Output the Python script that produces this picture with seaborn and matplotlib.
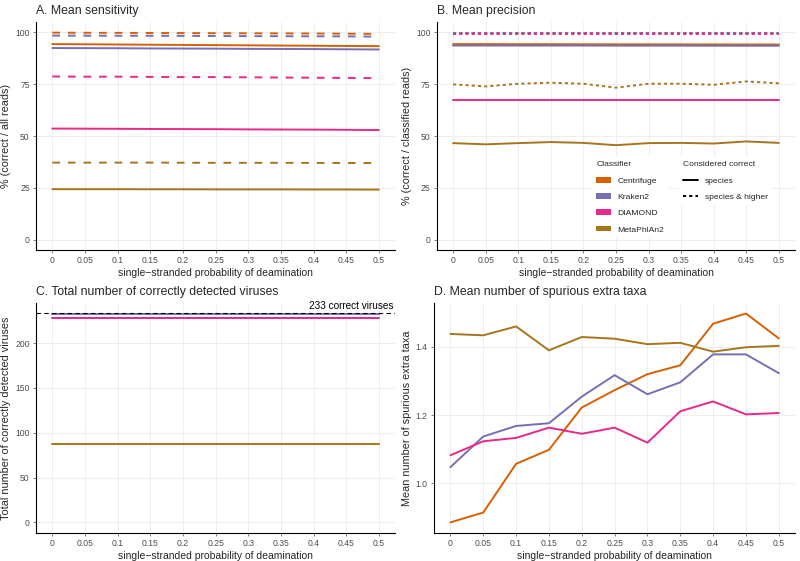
import pandas as pd
import matplotlib
matplotlib.use("Agg")
import matplotlib.pyplot as plt
import matplotlib.patches as mpatches
from matplotlib.lines import Line2D
import seaborn as sns

# deamination probabilities (x axis)
deam = [0, 0.05, 0.1, 0.15, 0.2, 0.25, 0.3, 0.35, 0.4, 0.45, 0.5]
x_labels = ["0", "0.05", "0.1", "0.15", "0.2", "0.25", "0.3", "0.35", "0.4", "0.45", "0.5"]
classifiers = ["Centrifuge", "Kraken2", "DIAMOND", "MetaPhlAn2"]
levels = ["species", "species & higher"]
colors = ["#D95F02", "#7570B3", "#E7298A", "#A6761D"]

# A. mean sensitivity (%)
sens_species = {
    "Centrifuge": [94.3, 94.2, 94.1, 94.0, 93.9, 93.8, 93.7, 93.6, 93.5, 93.4, 93.3],
    "Kraken2": [92.4, 92.35, 92.3, 92.2, 92.15, 92.1, 92.0, 91.95, 91.9, 91.8, 91.7],
    "DIAMOND": [53.6, 53.55, 53.5, 53.4, 53.35, 53.3, 53.2, 53.15, 53.1, 53.0, 52.9],
    "MetaPhlAn2": [24.4, 24.4, 24.4, 24.35, 24.35, 24.3, 24.3, 24.3, 24.25, 24.25, 24.2],
}
sens_higher = {
    "Centrifuge": [99.8, 99.75, 99.7, 99.65, 99.6, 99.55, 99.5, 99.45, 99.4, 99.3, 99.2],
    "Kraken2": [98.4, 98.35, 98.3, 98.3, 98.25, 98.2, 98.15, 98.1, 98.05, 98.0, 97.9],
    "DIAMOND": [78.7, 78.6, 78.6, 78.5, 78.4, 78.4, 78.3, 78.2, 78.1, 78.0, 77.9],
    "MetaPhlAn2": [37.2, 37.2, 37.2, 37.2, 37.15, 37.1, 37.1, 37.1, 37.05, 37.0, 37.0],
}

# B. mean precision (%)
prec_species = {
    "Centrifuge": [94.3, 94.3, 94.25, 94.25, 94.2, 94.2, 94.2, 94.15, 94.15, 94.1, 94.1],
    "Kraken2": [93.6, 93.6, 93.6, 93.6, 93.6, 93.55, 93.55, 93.55, 93.5, 93.5, 93.5],
    "DIAMOND": [67.4, 67.4, 67.4, 67.4, 67.4, 67.4, 67.4, 67.4, 67.4, 67.4, 67.4],
    "MetaPhlAn2": [46.6, 46.0, 46.6, 47.1, 46.7, 45.6, 46.6, 46.7, 46.4, 47.4, 46.7],
}
prec_higher = {
    "Centrifuge": [99.7, 99.7, 99.7, 99.7, 99.7, 99.7, 99.7, 99.7, 99.7, 99.7, 99.7],
    "Kraken2": [99.5, 99.5, 99.5, 99.5, 99.5, 99.5, 99.5, 99.5, 99.5, 99.5, 99.5],
    "DIAMOND": [99.0, 99.0, 99.0, 99.0, 99.0, 99.0, 99.0, 99.0, 99.0, 99.0, 99.0],
    "MetaPhlAn2": [74.9, 73.9, 75.2, 75.7, 75.2, 73.3, 75.2, 75.2, 74.7, 76.3, 75.4],
}

# C. total number of correctly detected viruses
viruses = {
    "Centrifuge": [232] * 11,
    "Kraken2": [232] * 11,
    "DIAMOND": [228] * 11,
    "MetaPhlAn2": [87] * 11,
}
n_correct = 233

# D. mean number of spurious extra taxa
spurious = {
    "Centrifuge": [0.885, 0.914, 1.057, 1.098, 1.222, 1.273, 1.320, 1.346, 1.468, 1.498, 1.425],
    "Kraken2": [1.047, 1.137, 1.168, 1.176, 1.254, 1.317, 1.261, 1.296, 1.378, 1.378, 1.323],
    "DIAMOND": [1.082, 1.123, 1.133, 1.163, 1.145, 1.163, 1.119, 1.211, 1.240, 1.202, 1.206],
    "MetaPhlAn2": [1.438, 1.434, 1.460, 1.390, 1.429, 1.424, 1.408, 1.412, 1.386, 1.399, 1.403],
}


def to_long(species, higher=None):
    rows = []
    for name in classifiers:
        for x, y in zip(deam, species[name]):
            rows.append({"deam": x, "value": y, "Classifier": name, "level": "species"})
        if higher is not None:
            for x, y in zip(deam, higher[name]):
                rows.append({"deam": x, "value": y, "Classifier": name, "level": "species & higher"})
    return pd.DataFrame(rows)


sns.set_theme(style="white")
plt.rcParams["font.family"] = ["Liberation Sans", "DejaVu Sans"]

fig = plt.figure(figsize=(8, 5.61), dpi=100)
axA = fig.add_axes([0.045, 0.554, 0.449, 0.407])
axB = fig.add_axes([0.546, 0.554, 0.448, 0.407])
axC = fig.add_axes([0.045, 0.050, 0.449, 0.410])
axD = fig.add_axes([0.5425, 0.050, 0.4515, 0.410])

xlab = "single\u2212stranded probability of deamination"


def style_ax(ax, title, ylabel):
    ax.set_xlim(-0.025, 0.525)
    ax.set_xticks(deam)
    ax.set_xticklabels(x_labels)
    ax.grid(True, color="#ebebeb", linewidth=0.6)
    ax.set_axisbelow(True)
    for s in ["top", "right"]:
        ax.spines[s].set_visible(False)
    for s in ["left", "bottom"]:
        ax.spines[s].set_color("black")
        ax.spines[s].set_linewidth(0.8)
    ax.tick_params(axis="both", labelsize=6.2, labelcolor="#4d4d4d", color="#4d4d4d",
                   length=2.5, width=0.5, direction="out", bottom=True, left=True, pad=2)
    ax.set_xlabel(xlab, fontsize=7.5, labelpad=2)
    ax.set_ylabel(ylabel, fontsize=7.8, labelpad=3)
    ax.set_title(title, fontsize=8.8, loc="left", pad=6)
    if ax.get_legend() is not None:
        ax.get_legend().remove()


lw = 1.4
dfA = to_long(sens_species, sens_higher)
sns.lineplot(data=dfA, x="deam", y="value", hue="Classifier", style="level",
             hue_order=classifiers, style_order=levels, palette=colors,
             dashes={"species": "", "species & higher": (4, 4)},
             estimator=None, linewidth=lw, ax=axA)
axA.set_ylim(-5, 105)
axA.set_yticks([0, 25, 50, 75, 100])
style_ax(axA, "A. Mean sensitivity", "% (correct / all reads)")

dfB = to_long(prec_species, prec_higher)
sns.lineplot(data=dfB, x="deam", y="value", hue="Classifier", style="level",
             hue_order=classifiers, style_order=levels, palette=colors,
             dashes={"species": "", "species & higher": (1.6, 1.6)},
             estimator=None, linewidth=lw, ax=axB)
axB.set_ylim(-5, 105)
axB.set_yticks([0, 25, 50, 75, 100])
style_ax(axB, "B. Mean precision", "% (correct / classified reads)")

dfC = to_long(viruses)
sns.lineplot(data=dfC, x="deam", y="value", hue="Classifier",
             hue_order=classifiers, palette=colors,
             estimator=None, linewidth=lw, ax=axC)
axC.axhline(n_correct, color="black", linestyle=(0, (4, 3)), linewidth=0.8)
axC.text(0.522, n_correct + 2.5, f"{n_correct} correct viruses", ha="right", va="bottom",
         fontsize=7.2, color="black")
axC.set_ylim(-11.65, 244.65)
axC.set_yticks([0, 50, 100, 150, 200])
style_ax(axC, "C. Total number of correctly detected viruses", "Total number of correctly detected viruses")

dfD = to_long(spurious)
sns.lineplot(data=dfD, x="deam", y="value", hue="Classifier",
             hue_order=classifiers, palette=colors,
             estimator=None, linewidth=lw, ax=axD)
axD.set_ylim(0.854, 1.529)
axD.set_yticks([1.0, 1.2, 1.4])
axD.set_yticklabels(["1.0", "1.2", "1.4"])
style_ax(axD, "D. Mean number of spurious extra taxa", "Mean number of spurious extra taxa")

# legends inside panel B
clf_handles = [mpatches.Patch(facecolor=c, edgecolor="none", label=n) for c, n in zip(colors, classifiers)]
lvl_handles = [Line2D([0], [0], color="black", linewidth=lw, label="species"),
               Line2D([0], [0], color="black", linewidth=lw, linestyle=(0, (1.6, 1.6)),
                      label="species & higher")]
leg_kw = dict(loc="upper left", bbox_transform=fig.transFigure, fontsize=6.1, title_fontsize=6.1,
              frameon=True, facecolor="white", edgecolor="none", framealpha=1,
              handlelength=1.7, handleheight=0.65, labelspacing=1.0, alignment="left",
              borderpad=0.5, handletextpad=0.8)
leg1 = axB.legend(handles=clf_handles, title="Classifier",
                  bbox_to_anchor=(588 / 800, 1 - 153 / 561), **leg_kw)
axB.add_artist(leg1)
leg2 = axB.legend(handles=lvl_handles, title="Considered correct",
                  bbox_to_anchor=(675 / 800, 1 - 153 / 561), **leg_kw)

fig.savefig("out.png", dpi=100)
